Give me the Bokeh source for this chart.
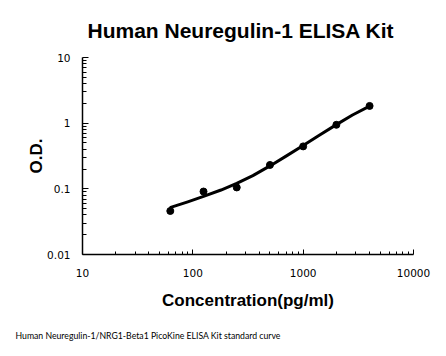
from bokeh.plotting import figure
from bokeh.models import Title, FixedTicker, CustomJSTickFormatter
from bokeh.embed import file_html
from bokeh.resources import INLINE

# standards (pg/ml) and measured O.D.
conc = [62.5, 125, 250, 500, 1000, 2000, 4000]
od = [0.046, 0.091, 0.105, 0.231, 0.443, 0.944, 1.83]

# fitted standard curve
curve_x = [63, 90, 125, 180, 250, 350, 500, 700, 1000, 1400, 2000, 2800, 4000]
curve_y = [0.0521, 0.0634, 0.0766, 0.0959, 0.1208, 0.1592, 0.2234, 0.3148,
           0.4581, 0.6561, 0.9506, 1.330, 1.820]

x_ticks = [10, 100, 1000, 10000]
y_ticks = [0.01, 0.1, 1, 10]

title_text = "Human Neuregulin-1 ELISA Kit"
x_label = "Concentration(pg/ml)"
y_label = "O.D."
footnote = "Human Neuregulin-1/NRG1-Beta1 PicoKine ELISA Kit standard curve"


def minors(majors):
    out = []
    for t in majors[:-1]:
        out += [t * m for m in range(2, 10)]
    return out


p = figure(width=446, height=356, x_axis_type="log", y_axis_type="log",
           x_range=(x_ticks[0], x_ticks[-1]), y_range=(y_ticks[0], y_ticks[-1]),
           output_backend="svg", toolbar_location=None,
           min_border_left=82, min_border_right=33, min_border_top=56, min_border_bottom=102)

p.outline_line_color = None
p.grid.visible = False
p.background_fill_color = "white"
p.border_fill_color = "white"

p.title.text = title_text
p.title.text_font = "Liberation Sans"
p.title.text_font_size = "21px"
p.title.text_font_style = "bold"
p.title.text_color = "black"
p.title.align = "left"
p.title.offset = 5
p.title.standoff = 32

fmt = CustomJSTickFormatter(code="return tick.toString();")

xa = p.xaxis[0]
xa.ticker = FixedTicker(ticks=x_ticks, minor_ticks=minors(x_ticks))
xa.formatter = fmt
xa.major_tick_in = 5
xa.major_tick_out = 0
xa.minor_tick_in = 3
xa.minor_tick_out = 0
xa.axis_line_width = 1.5
xa.axis_line_color = "black"
xa.major_tick_line_color = "black"
xa.minor_tick_line_color = "black"
xa.major_label_text_font = "DejaVu Sans"
xa.major_label_text_font_size = "10.5px"
xa.major_label_text_color = "black"
xa.major_label_standoff = 14
xa.axis_label = x_label
xa.axis_label_text_font = "Liberation Sans"
xa.axis_label_text_font_size = "17px"
xa.axis_label_text_font_style = "bold"
xa.axis_label_text_color = "black"
xa.axis_label_standoff = 11

ya = p.yaxis[0]
ya.ticker = FixedTicker(ticks=y_ticks, minor_ticks=minors(y_ticks))
ya.formatter = fmt
ya.major_tick_in = 6
ya.major_tick_out = 0
ya.minor_tick_in = 4
ya.minor_tick_out = 0
ya.axis_line_width = 1.5
ya.axis_line_color = "black"
ya.major_tick_line_color = "black"
ya.minor_tick_line_color = "black"
ya.major_label_text_font = "DejaVu Sans"
ya.major_label_text_font_size = "10.5px"
ya.major_label_text_color = "black"
ya.major_label_standoff = 12
ya.axis_label = y_label
ya.axis_label_text_font = "Liberation Sans"
ya.axis_label_text_font_size = "17px"
ya.axis_label_text_font_style = "bold"
ya.axis_label_text_color = "black"
ya.axis_label_standoff = -2

p.line(curve_x, curve_y, line_width=3, line_color="black", line_join="round", line_cap="round")
p.scatter(conc, od, size=7, fill_color="black", line_color="black")

p.add_layout(Title(text=footnote, align="left", offset=-67, standoff=30,
                   text_font="Lato", text_font_size="8.7px", text_font_style="normal",
                   text_color="black"), "below")

open("out.html", "w").write(file_html(p, INLINE))
